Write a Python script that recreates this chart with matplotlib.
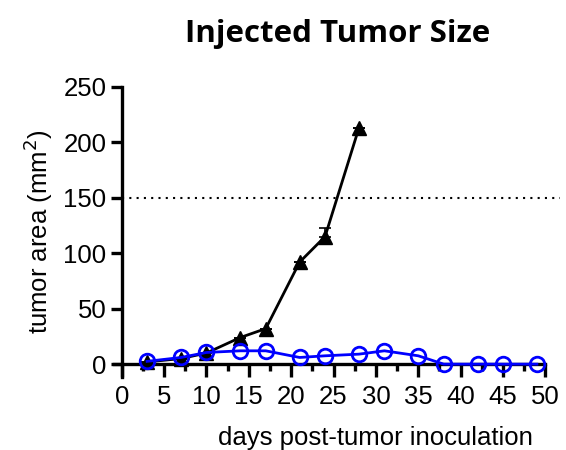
import matplotlib
matplotlib.use("Agg")
import matplotlib.pyplot as plt
from matplotlib.ticker import MultipleLocator

# tumour area (mm^2) by day after inoculation
ctrl_days = [3, 7, 10, 14, 17, 21, 24, 28]
ctrl_area = [2, 5, 10, 24, 32, 92, 115, 213]
ctrl_err = [0, 0, 0, 0, 0, 0, 8, 0]

trt_days = [3, 7, 10, 14, 17, 21, 24, 28, 31, 35, 38, 42, 45, 49]
trt_area = [2.5, 6, 10.5, 12, 12, 6, 7.5, 9, 12, 7.5, 0, 0, 0, 0]

endpoint = 150

plt.rcParams["font.family"] = ["Liberation Sans", "DejaVu Sans"]

fig = plt.figure(figsize=(5.66, 4.5), dpi=100)
ax = fig.add_axes([0.215, 0.162, 0.774, 0.645])

ax.axhline(endpoint, color="k", ls=(0, (1, 2.5)), lw=1.5, zorder=1)

ax.errorbar(ctrl_days, ctrl_area, yerr=[[0] * len(ctrl_err), ctrl_err], color="k", lw=2,
            marker="^", ms=10.5, capsize=4, elinewidth=1.2, capthick=1.2, clip_on=False, zorder=3)
ax.plot(trt_days, trt_area, color="#0000ff", lw=2, marker="o", ms=10.5, mfc="none", mew=2,
        clip_on=False, zorder=4)

ax.set_xlim(0, 51.7)
ax.set_ylim(-11.7, 250)
for s in ("top", "right"):
    ax.spines[s].set_visible(False)
ax.spines["left"].set_linewidth(2.4)
ax.spines["bottom"].set_linewidth(2.4)
ax.spines["bottom"].set_position(("data", 0))
ax.spines["bottom"].set_bounds(-0.9, 50)
ax.spines["left"].set_bounds(-11.7, 250)

ax.xaxis.set_major_locator(MultipleLocator(5))
ax.xaxis.set_minor_locator(MultipleLocator(2.5))
ax.yaxis.set_major_locator(MultipleLocator(50))
ax.tick_params(axis="x", which="major", direction="out", length=9, width=2.4, labelsize=18.5, pad=6)
ax.tick_params(axis="x", which="minor", direction="out", length=5, width=2.4)
ax.tick_params(axis="y", which="major", direction="out", length=8, width=2.4, labelsize=18.5, pad=3)

ax.set_ylabel("tumor area (mm$^2$)", fontsize=18.5, labelpad=6)
fig.text(0.663, 0.0, "days post-tumor inoculation", fontsize=18.5, ha="center", va="bottom")
fig.text(0.597, 0.925, "Injected Tumor Size", fontsize=22.5, fontweight="bold",
         family=["Open Sans", "DejaVu Sans"], ha="center", va="center")

fig.savefig("out.png", dpi=100)
